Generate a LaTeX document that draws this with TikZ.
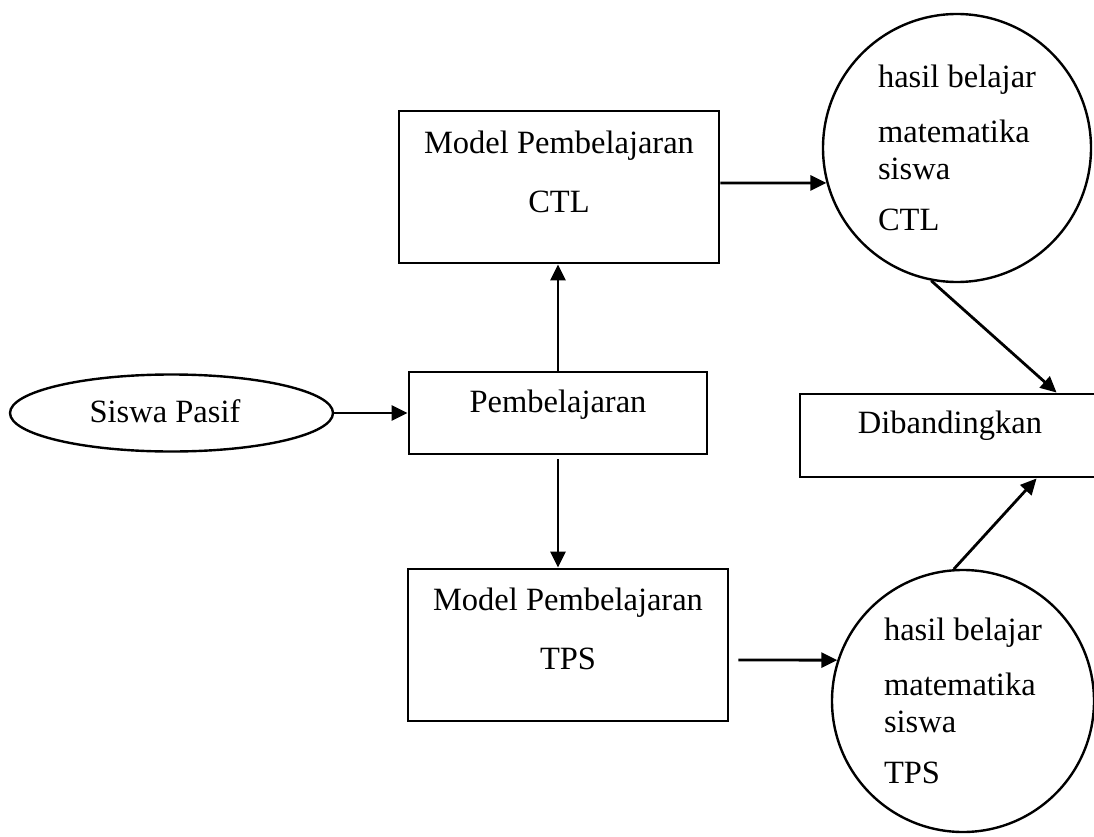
\documentclass[tikz,border=0pt]{standalone}
\usepackage{fontspec}
\setmainfont{Liberation Serif}
\usetikzlibrary{arrows.meta,shapes.geometric}
\begin{document}
\begin{tikzpicture}[x=1pt,y=-1pt,
  box/.style={draw, line width=2.9pt, rectangle, inner sep=0pt},
  bubble/.style={draw, line width=2.4pt, circle, inner sep=0pt, minimum size=#1, align=left, font=\fontsize{32.5}{37}\selectfont},
  txt/.style={font=\fontsize{32.5}{37}\selectfont, align=center, inner sep=0pt},
  conn/.style={line width=2.8pt, -{Triangle[length=16pt,width=15pt]}}
]
\useasboundingbox (0,0) rectangle (1094,837);
\clip (0,0) rectangle (1094,837);
% ellipse
\node[draw, ellipse, line width=2.4pt, minimum width=323pt, minimum height=77pt, inner sep=0pt] (siswa) at (171.5,413) {};
\node[txt] (siswat) at (165,411) {Siswa Pasif};
% boxes
\node[box, minimum width=320pt, minimum height=152pt] (ctl) at (559,187) {};
\node[txt] (ctlt) at ([yshift=15pt]ctl.center) {Model Pembelajaran\\[22pt]CTL};
\node[box, minimum width=298pt, minimum height=82pt] (pemb) at (558,413) {};
\node[txt] (pembt) at ([yshift=8pt]pemb.center) {Pembelajaran};
\node[box, minimum width=320pt, minimum height=152pt] (tps) at (568,645) {};
\node[txt] (tpst) at ([yshift=16pt]tps.center) {Model Pembelajaran\\[22pt]TPS};
\node[box, minimum width=300pt, minimum height=83pt] (dib) at (950,435.5) {};
\node[txt] (dibt) at ([yshift=10pt]dib.center) {Dibandingkan};
% circles
\node[bubble=268pt] (hc) at (957,148) {hasil belajar\\[18pt]matematika\\siswa\\[14pt]CTL};
\node[bubble=262pt] (ht) at (963,701) {hasil belajar\\[18pt]matematika\\siswa\\[14pt]TPS};
% connectors
\draw[conn] (siswa.east) -- (pemb.west);
\draw[conn] (pemb.north) -- (pemb.north |- ctl.south);
\draw[conn] ([yshift=-4pt]pemb.south) -- (pemb.south |- tps.north);
\draw[conn] ([yshift=4pt]ctl.east) -- (hc.195);
\draw[conn] ([xshift=9pt,yshift=-15pt]tps.east) -- (ht.162);
\draw[conn] (hc.259) -- ([xshift=258pt]dib.north west);
\draw[conn] (ht.94) -- ([xshift=238pt]dib.south west);
\end{tikzpicture}
\end{document}
